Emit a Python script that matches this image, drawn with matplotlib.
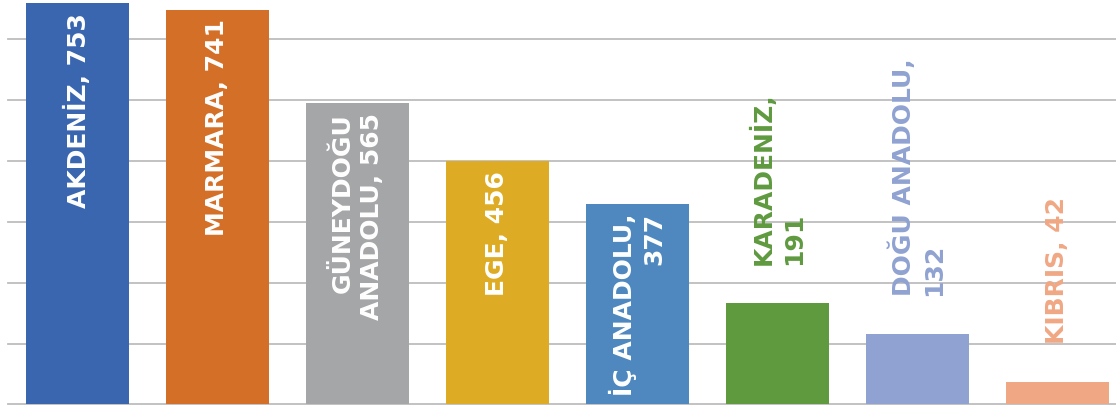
import matplotlib
matplotlib.use("Agg")
import matplotlib.pyplot as plt

# ---- data ----
regions = ["AKDENİZ", "MARMARA", "GÜNEYDOĞU\nANADOLU", "EGE", "İÇ ANADOLU",
           "KARADENİZ", "DOĞU ANADOLU", "KIBRIS"]
values = [753, 741, 565, 456, 377, 191, 132, 42]
separators = [", ", ", ", ", ", ", ", ",\n", ",\n", ",\n", ", "]
colors = ["#3A66B0", "#D46F27", "#A5A6A8", "#DEAC24", "#4F88BF",
          "#5F9A3F", "#8FA2D1", "#F0A784"]
inside = [True, True, True, True, True, False, False, False]
grid_values = [0, 114.4, 228.8, 343.2, 457.6, 572.0, 686.4]

plt.rcParams["font.family"] = ["DejaVu Sans"]

fig = plt.figure(figsize=(11.16, 4.05), dpi=100)
ax = fig.add_axes([0, 0, 1, 1])

x = list(range(len(values)))
ax.set_xlim(-0.5536, 7.418)
ax.set_ylim(-1, 759)

for g in grid_values:
    ax.plot([-0.497, 7.5], [g, g], color="#BDBDBD", lw=1.3, zorder=0)

ax.bar(x, values, width=0.736, color=colors, zorder=2)

for i, v in enumerate(values):
    text = regions[i] + separators[i] + str(v)
    if inside[i]:
        ax.text(i, v - 18, text, rotation=90, ha="center", va="top",
                multialignment="right", color="white", fontsize=18,
                fontweight="bold", linespacing=1.3, zorder=3)
    else:
        ax.text(i, v + 71, text, rotation=90, ha="center", va="bottom",
                multialignment="left", color=colors[i], fontsize=18,
                fontweight="bold", linespacing=1.3, zorder=3)

ax.axis("off")

fig.savefig("out.png", dpi=100)
